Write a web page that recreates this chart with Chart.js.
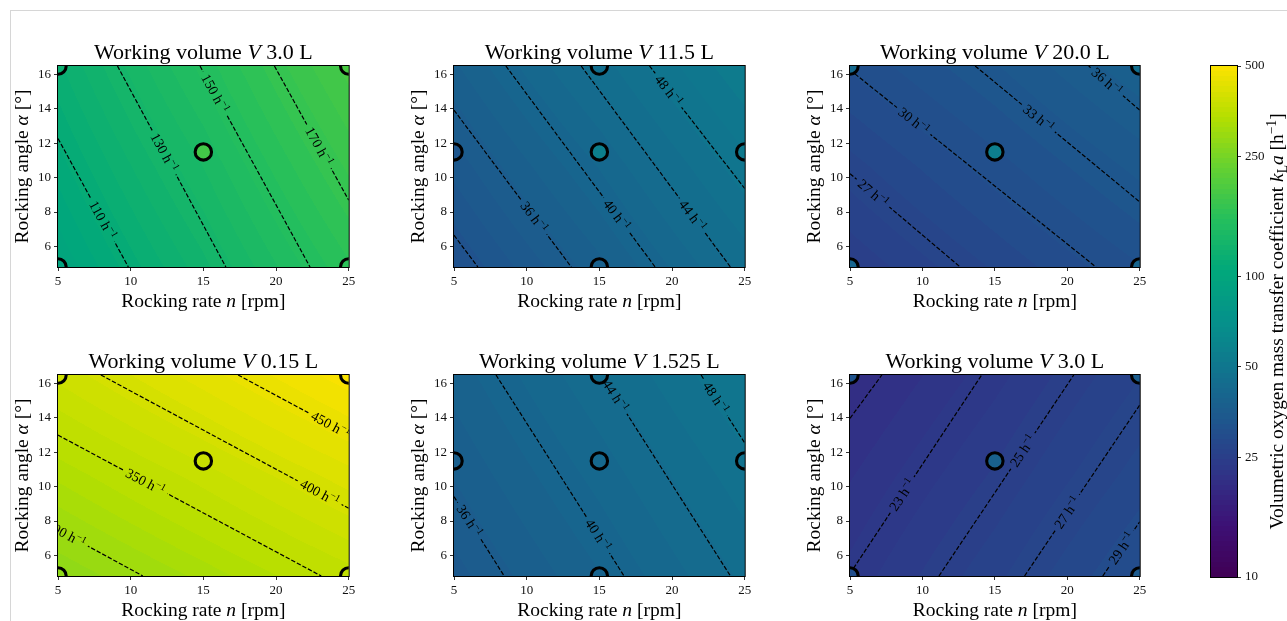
<!DOCTYPE html>
<html><head><meta charset="utf-8">
<script src="https://cdn.jsdelivr.net/npm/chart.js@4.4.1/dist/chart.umd.min.js"></script>
<style>
html,body{margin:0;padding:0;background:#fff;}
body{width:1287px;height:621px;position:relative;overflow:hidden;}
canvas{position:absolute;}
#frame{position:absolute;left:10px;top:10px;right:0;bottom:0;border-left:1px solid #d6d6d6;border-top:1px solid #d6d6d6;}
</style></head><body>
<div id="frame"></div>
<canvas id="pA" width="360" height="286" style="left:0px;top:26px;width:360px;height:286px"></canvas>
<canvas id="pB" width="360" height="286" style="left:396px;top:26px;width:360px;height:286px"></canvas>
<canvas id="pC" width="359" height="286" style="left:792px;top:26px;width:359px;height:286px"></canvas>
<canvas id="pD" width="360" height="286" style="left:0px;top:335px;width:360px;height:286px"></canvas>
<canvas id="pE" width="360" height="286" style="left:396px;top:335px;width:360px;height:286px"></canvas>
<canvas id="pF" width="359" height="286" style="left:792px;top:335px;width:359px;height:286px"></canvas>
<canvas id="cbar" width="87" height="547" style="left:1200px;top:50px;width:87px;height:547px"></canvas>
<script>
// ---------------- data ----------------
const rateTicks = [5, 10, 15, 20, 25];
const angleTicks = [6, 8, 10, 12, 14, 16];
const rateRange = [5, 25];
const angleRange = [4.8, 16.5];
const gridRate = [5, 15, 25];
const gridAngle = [4.8, 10.65, 16.5];
const cbarTicks = [10, 25, 50, 100, 250, 500];
const cbarRange = [10, 500];
const volumes = ['3.0 L', '11.5 L', '20.0 L', '0.15 L', '1.525 L', '3.0 L'];
const designCorner = [[5, 4.8], [5, 16.5], [25, 4.8], [25, 16.5], [15, 11.5]];
const designCross = [[5, 11.5], [15, 16.5], [15, 11.5], [15, 4.8], [25, 11.5]];

// kLa field at grid nodes: rows = angle (4.8, 10.65, 16.5), cols = rate (5, 15, 25)
const fieldA = [[96.5, 125.4, 159.6], [106.5, 137.6, 175.3], [116.5, 150.9, 191.0]];
const levelsA = [110, 130, 150, 170];
const linesA = [[[5, 12.28], [9.84, 4.8]], [[9.09, 16.5], [16.55, 4.8]], [[14.77, 16.5], [22.34, 4.8]], [[19.89, 16.5], [25, 8.69]]];
const labelsA = [[8.07, 7.54], [12.3, 11.47], [15.8, 14.9], [22.95, 11.82]];
const measA = [95, 118, 160, 195, 185];

const fieldB = [[31.0, 37.3, 44.8], [34.1, 41.0, 49.0], [37.55, 45.1, 53.5]];
const levelsB = [32, 36, 40, 44, 48];
const linesB = [[[5, 6.65], [6.64, 4.8]], [[5, 13.93], [13.07, 4.8]], [[8.57, 16.5], [18.84, 4.8]], [[13.75, 16.5], [24.02, 4.8]], [[18.45, 16.5], [25, 9.37]]];
const labelsB = [null, [10.5, 7.71], [16.18, 7.83], [21.4, 7.79], [19.75, 15.08]];
const measB = [33, 45, 56, 38, 52];

const fieldC = [[24.7, 27.8, 31.0], [27.2, 30.55, 34.07], [30.1, 33.5, 37.4]];
const levelsC = [27, 30, 33, 36];
const linesC = [[[5, 10.23], [12.61, 4.8]], [[5, 16.27], [21.98, 4.8]], [[13.64, 16.5], [25, 8.59]], [[21.48, 16.5], [25, 13.93]]];
const labelsC = [[6.59, 9.10], [9.4, 13.3], [18.0, 13.46], [22.73, 15.59]];
const measC = [40, 42, 40, 45, 55];

const fieldD = [[277, 317, 358], [328.5, 372.6, 420.5], [385, 437, 492]];
const levelsD = [300, 350, 400, 450];
const linesD = [[[5, 7.49], [10.84, 4.8]], [[5, 13.0], [23.11, 4.8]], [[7.95, 16.5], [25, 8.74]], [[17.39, 16.5], [25, 13.04]]];
const labelsD = [[5.55, 7.24], [11.0, 10.28], [23.0, 9.65], [23.75, 13.61]];
const measD = [280, 385, 360, 490, 375];

const fieldE = [[34.4, 39.2, 44.6], [36.45, 41.5, 47.05], [38.5, 43.9, 49.8]];
const levelsE = [36, 40, 44, 48];
const linesE = [[[5, 9.42], [8.45, 4.8]], [[7.89, 16.5], [16.7, 4.8]], [[15.19, 16.5], [24.02, 4.8]], [[22.0, 16.5], [25, 12.55]]];
const labelsE = [[6.05, 8.01], [14.9, 7.19], [16.1, 15.29], [23.0, 15.18]];
const measE = [37, 44, 42, 39, 47];

const fieldF = [[23.04, 26.3, 29.97], [21.78, 24.75, 28.15], [20.4, 23.29, 26.53]];
const levelsF = [21, 23, 25, 27, 29];
const linesF = [[[5, 13.98], [7.2, 16.5]], [[5, 4.94], [14.09, 16.5]], [[11.14, 4.8], [20.45, 16.5]], [[17.05, 4.8], [25, 14.75]], [[22.45, 4.8], [25, 7.96]]];
const labelsF = [null, [8.6, 9.52], [16.93, 12.08], [20.0, 8.49], [23.75, 6.41]];
const measF = [30, 32, 35, 36, 38];

// ---------------- style ----------------
const SERIF = "'Liberation Serif','DejaVu Serif',serif";
const TITLE_SIZE = 22, AXIS_SIZE = 19.5, TICK_SIZE = 13, CLABEL_SIZE = 14, CBAR_SIZE = 19.4;
const VIRIDIS = ['#440154','#482475','#414487','#355f8d','#2a788e','#21918c','#22a884','#44bf70','#7ad151','#bddf26','#fde725'];
const NBANDS = 100;
const SAT_BOOST = 1.25;

// HSV-style saturation boost (keeps the max channel, pushes others away from it)
function boost(c) {
  const v = Math.max(c[0], c[1], c[2]);
  return c.map(ch => Math.max(0, Math.round(v - (v - ch) * SAT_BOOST)));
}
const VIR = VIRIDIS.map(h => boost([parseInt(h.slice(1,3),16), parseInt(h.slice(3,5),16), parseInt(h.slice(5,7),16)]));
function viridis(f) {
  f = Math.max(0, Math.min(1, f));
  const s = f * (VIR.length - 1);
  const i = Math.min(VIR.length - 2, Math.floor(s));
  const t = s - i;
  return VIR[i].map((c, k) => Math.round(c + (VIR[i+1][k] - c) * t));
}
function normLog(v) {
  const lo = Math.log10(cbarRange[0]), hi = Math.log10(cbarRange[1]);
  return (Math.log10(v) - lo) / (hi - lo);
}
function bandRgb(v) {
  let b = Math.floor(normLog(v) * NBANDS);
  b = Math.max(0, Math.min(NBANDS - 1, b));
  return viridis((b + 0.5) / NBANDS);
}
const rgbStr = c => `rgb(${c[0]},${c[1]},${c[2]})`;

function locate(arr, v) {
  let i = 0;
  while (i < arr.length - 2 && v > arr[i+1]) i++;
  return [i, (v - arr[i]) / (arr[i+1] - arr[i])];
}
function fieldAt(grid, n, a) {
  const [i, t] = locate(gridRate, n);
  const [j, u] = locate(gridAngle, a);
  const lo = grid[j][i] * (1 - t) + grid[j][i+1] * t;
  const hi = grid[j+1][i] * (1 - t) + grid[j+1][i+1] * t;
  return lo * (1 - u) + hi * u;
}

function fontOf(p, base) {
  return `${p.it ? 'italic ' : ''}${(base * (p.scale || 1)).toFixed(2)}px ${SERIF}`;
}
function richWidth(ctx, parts, base) {
  let w = 0;
  parts.forEach(p => { ctx.font = fontOf(p, base); w += ctx.measureText(p.t).width; });
  return w;
}
function drawRich(ctx, parts, x, y, base) {
  const w = richWidth(ctx, parts, base);
  let cx = x - w / 2;
  ctx.textBaseline = 'alphabetic';
  ctx.textAlign = 'left';
  parts.forEach(p => {
    ctx.font = fontOf(p, base);
    ctx.fillText(p.t, cx, y + (p.dy || 0) * base);
    cx += ctx.measureText(p.t).width;
  });
}

const panels = [
  {id: 'pA', vol: volumes[0], field: fieldA, levels: levelsA, lines: linesA, labels: labelsA, pts: designCorner, meas: measA},
  {id: 'pB', vol: volumes[1], field: fieldB, levels: levelsB, lines: linesB, labels: labelsB, pts: designCross, meas: measB},
  {id: 'pC', vol: volumes[2], field: fieldC, levels: levelsC, lines: linesC, labels: labelsC, pts: designCorner, meas: measC},
  {id: 'pD', vol: volumes[3], field: fieldD, levels: levelsD, lines: linesD, labels: labelsD, pts: designCorner, meas: measD},
  {id: 'pE', vol: volumes[4], field: fieldE, levels: levelsE, lines: linesE, labels: labelsE, pts: designCross, meas: measE},
  {id: 'pF', vol: volumes[5], field: fieldF, levels: levelsF, lines: linesF, labels: labelsF, pts: designCorner, meas: measF}
];

function panelPlugin(p) {
  return {
    id: 'panel_' + p.id,
    beforeDatasetsDraw(chart) {
      const {ctx, chartArea: a, scales: {x, y}} = chart;
      const w = Math.round(a.right - a.left), h = Math.round(a.bottom - a.top);
      const off = document.createElement('canvas');
      off.width = w; off.height = h;
      const octx = off.getContext('2d');
      const img = octx.createImageData(w, h);
      for (let j = 0; j < h; j++) {
        const av = y.getValueForPixel(a.top + j + 0.5);
        for (let i = 0; i < w; i++) {
          const nv = x.getValueForPixel(a.left + i + 0.5);
          const c = bandRgb(fieldAt(p.field, nv, av));
          const k = (j * w + i) * 4;
          img.data[k] = c[0]; img.data[k+1] = c[1]; img.data[k+2] = c[2]; img.data[k+3] = 255;
        }
      }
      octx.putImageData(img, 0, 0);
      chart.$field = off;
      ctx.drawImage(off, a.left, a.top);
    },
    beforeDatasetDraw(chart, args) {
      if (args.index !== 0) return;
      const {ctx, chartArea: a, scales: {x, y}} = chart;
      ctx.save();
      ctx.beginPath(); ctx.rect(a.left, a.top, a.right - a.left, a.bottom - a.top); ctx.clip();
      p.labels.forEach((lb, k) => {
        if (!lb) return;
        const ln = p.lines[k];
        const x0 = x.getPixelForValue(ln[0][0]), y0 = y.getPixelForValue(ln[0][1]);
        const x1 = x.getPixelForValue(ln[1][0]), y1 = y.getPixelForValue(ln[1][1]);
        let ang = Math.atan2(y1 - y0, x1 - x0);
        if (ang > Math.PI / 2) ang -= Math.PI;
        if (ang < -Math.PI / 2) ang += Math.PI;
        const cx = x.getPixelForValue(lb[0]), cy = y.getPixelForValue(lb[1]);
        const parts = [{t: p.levels[k] + ' h'}, {t: '\u22121', scale: 0.7, dy: -0.38}];
        const tw = richWidth(ctx, parts, CLABEL_SIZE);
        ctx.save();
        ctx.translate(cx, cy); ctx.rotate(ang);
        ctx.save();
        ctx.beginPath(); ctx.rect(-tw / 2 - 4, -3.5, tw + 8, 7); ctx.clip();
        ctx.rotate(-ang); ctx.translate(-cx, -cy);
        ctx.drawImage(chart.$field, a.left, a.top);
        ctx.restore();
        ctx.fillStyle = '#000';
        drawRich(ctx, parts, 0, CLABEL_SIZE * 0.33, CLABEL_SIZE);
        ctx.restore();
      });
      ctx.restore();
    },
    afterDraw(chart) {
      const {ctx, chartArea: a} = chart;
      ctx.save();
      ctx.strokeStyle = '#000'; ctx.lineWidth = 1;
      ctx.strokeRect(a.left - 0.5, a.top - 0.5, a.right - a.left + 1, a.bottom - a.top + 1);
      ctx.fillStyle = '#000';
      const mx = (a.left + a.right) / 2;
      drawRich(ctx, [{t: 'Working volume '}, {t: 'V', it: true}, {t: ' ' + p.vol}], mx, a.top - 7, TITLE_SIZE);
      drawRich(ctx, [{t: 'Rocking rate '}, {t: 'n', it: true}, {t: ' [rpm]'}], mx, a.bottom + 40, AXIS_SIZE);
      ctx.translate(a.left - 36 + 0.33 * AXIS_SIZE, (a.top + a.bottom) / 2);
      ctx.rotate(-Math.PI / 2);
      drawRich(ctx, [{t: 'Rocking angle '}, {t: '\u03b1', it: true}, {t: ' [\u00b0]'}], 0, 0, AXIS_SIZE);
      ctx.restore();
    }
  };
}

function axisCommon(ticksArr) {
  return {
    type: 'linear',
    afterBuildTicks: s => { s.ticks = ticksArr.map(v => ({value: v})); },
    grid: {drawOnChartArea: false, drawTicks: true, tickLength: 4, color: '#000', lineWidth: 0.8},
    border: {display: false},
    ticks: {font: {family: SERIF, size: TICK_SIZE}, color: '#111', padding: 3, maxRotation: 0, autoSkip: false}
  };
}

panels.forEach(p => {
  const datasets = [];
  datasets.push({
    data: p.pts.map(q => ({x: q[0], y: q[1]})),
    pointRadius: 8.2, pointHoverRadius: 8.2,
    pointBorderWidth: 3.1, pointBorderColor: '#000',
    pointBackgroundColor: p.meas.map(v => rgbStr(viridis(normLog(v)))),
    showLine: false, order: 0, clip: 0
  });
  p.lines.forEach(ln => {
    datasets.push({
      data: ln.map(q => ({x: q[0], y: q[1]})),
      showLine: true, borderColor: '#000', borderWidth: 1.2, borderDash: [4.4, 1.9],
      pointRadius: 0, pointHoverRadius: 0, fill: false, tension: 0, order: 1, clip: 0
    });
  });
  const xAx = Object.assign(axisCommon(rateTicks), {min: rateRange[0], max: rateRange[1], afterFit: s => { s.height = 45; }});
  const yAx = Object.assign(axisCommon(angleTicks), {min: angleRange[0], max: angleRange[1], afterFit: s => { s.width = 58; }});
  new Chart(document.getElementById(p.id), {
    type: 'scatter',
    data: {datasets},
    options: {
      responsive: false, animation: false, devicePixelRatio: 1, events: [],
      layout: {padding: {left: 0, top: 40, right: 8, bottom: 0}},
      plugins: {legend: {display: false}, tooltip: {enabled: false}, title: {display: false}},
      scales: {x: xAx, y: yAx}
    },
    plugins: [panelPlugin(p)]
  });
});

// ---------------- colorbar ----------------
const cbarPlugin = {
  id: 'cbarFill',
  beforeDatasetsDraw(chart) {
    const {ctx, chartArea: a, scales: {y}} = chart;
    for (let j = 0; j < Math.round(a.bottom - a.top); j++) {
      const v = y.getValueForPixel(a.top + j + 0.5);
      ctx.fillStyle = rgbStr(bandRgb(v));
      ctx.fillRect(a.left, a.top + j, a.right - a.left, 1);
    }
  },
  afterDraw(chart) {
    const {ctx, chartArea: a} = chart;
    ctx.save();
    ctx.strokeStyle = '#000'; ctx.lineWidth = 1;
    ctx.strokeRect(a.left - 0.5, a.top - 0.5, a.right - a.left + 1, a.bottom - a.top + 1);
    ctx.fillStyle = '#000';
    ctx.translate(83, (a.top + a.bottom) / 2);
    ctx.rotate(-Math.PI / 2);
    drawRich(ctx, [
      {t: 'Volumetric oxygen mass transfer coefficient '},
      {t: 'k', it: true}, {t: 'L', scale: 0.7, dy: 0.2}, {t: 'a', it: true},
      {t: ' [h'}, {t: '\u22121', scale: 0.7, dy: -0.38}, {t: ']'}
    ], 0, 0, CBAR_SIZE);
    ctx.restore();
  }
};
new Chart(document.getElementById('cbar'), {
  type: 'scatter',
  data: {datasets: [{data: []}]},
  options: {
    responsive: false, animation: false, devicePixelRatio: 1, events: [],
    layout: {padding: {left: 11, top: 16, right: 0, bottom: 20}},
    plugins: {legend: {display: false}, tooltip: {enabled: false}},
    scales: {
      x: {display: false, min: 0, max: 1},
      y: {
        type: 'logarithmic', position: 'right', min: cbarRange[0], max: cbarRange[1],
        afterBuildTicks: s => { s.ticks = cbarTicks.map(v => ({value: v})); },
        afterFit: s => { s.width = 50; },
        grid: {drawOnChartArea: false, drawTicks: true, tickLength: 4, color: '#000', lineWidth: 0.8},
        border: {display: false},
        ticks: {font: {family: SERIF, size: TICK_SIZE}, color: '#111', padding: 4, callback: v => String(v)}
      }
    }
  },
  plugins: [cbarPlugin]
});
</script>
</body></html>
